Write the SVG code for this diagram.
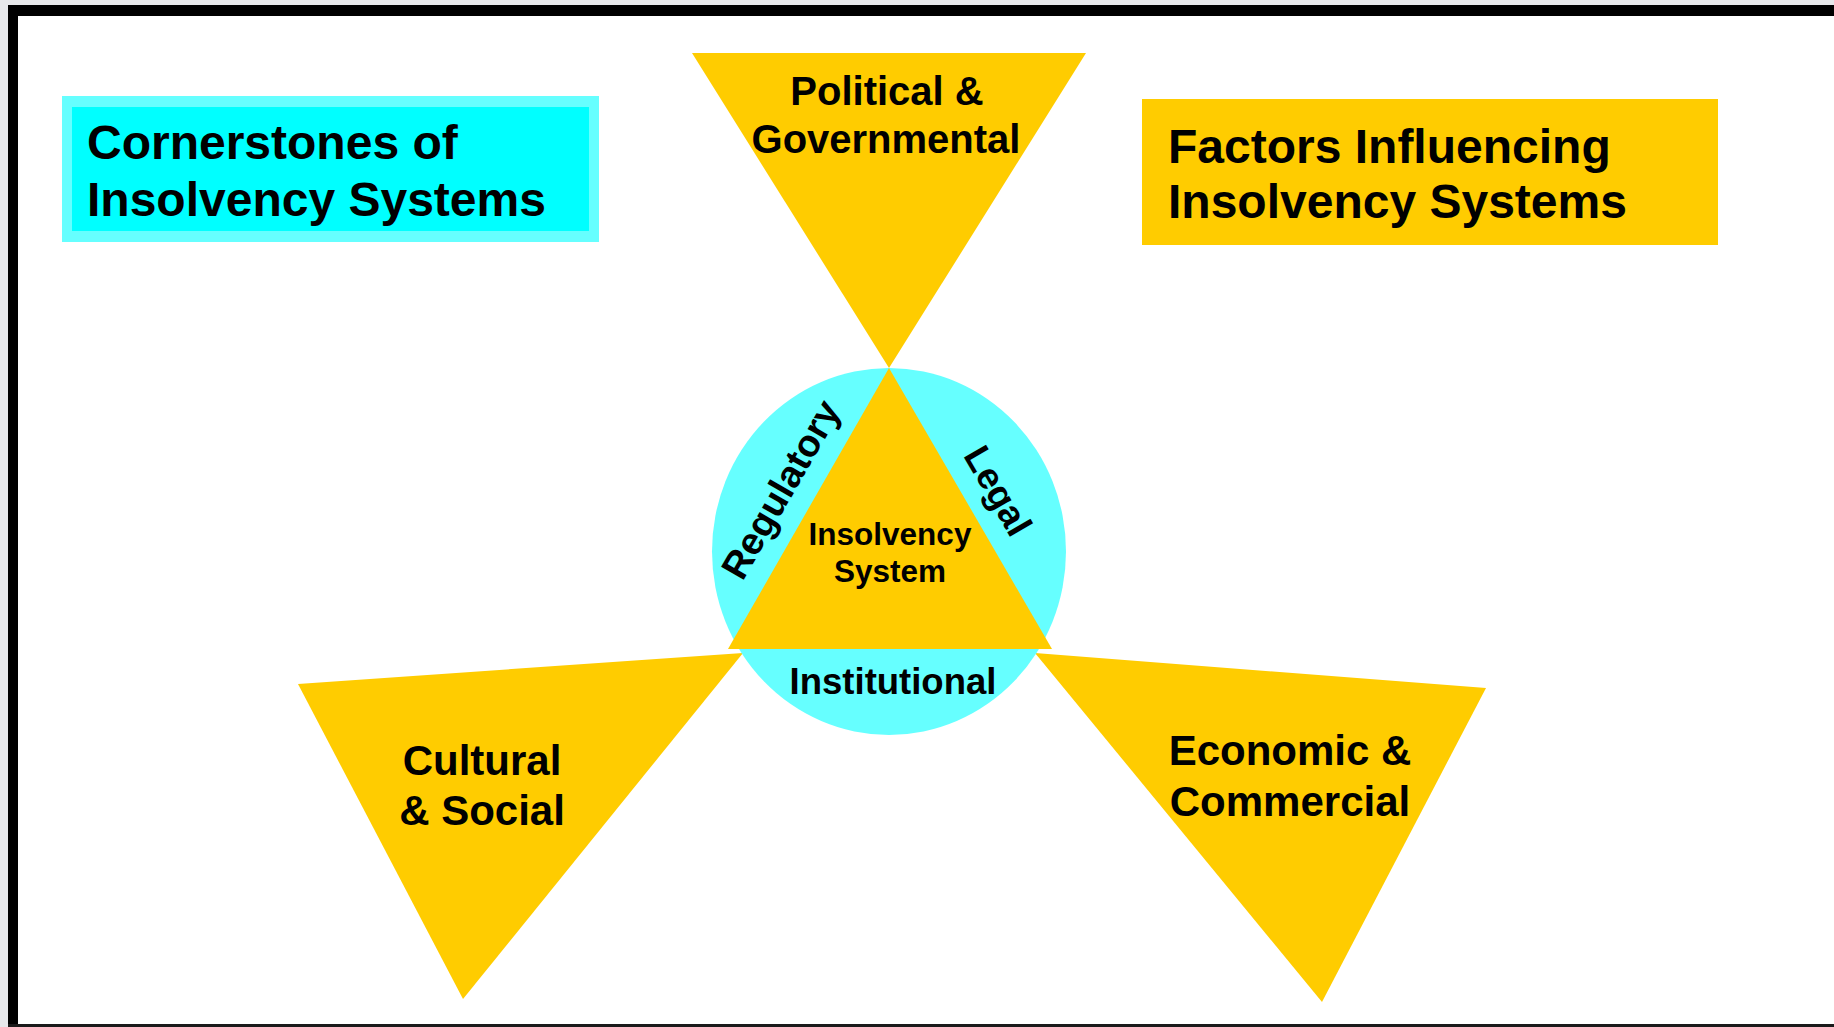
<svg xmlns="http://www.w3.org/2000/svg" width="1834" height="1027" viewBox="0 0 1834 1027">
  <style>
    text { font-family: "Liberation Sans", Arial, sans-serif; font-weight: bold; fill: #000000; }
    .amber { fill: #ffcc00; }
    .aqua { fill: #66ffff; }
    .mid { text-anchor: middle; }
  </style>

  <!-- page background and slide frame -->
  <rect x="0" y="0" width="1834" height="1027" fill="#e7e8eb"/>
  <rect x="8" y="5" width="1826" height="1022" fill="#ffffff"/>
  <rect x="8" y="5" width="1826" height="11" fill="#000000"/>
  <rect x="8" y="5" width="10" height="1022" fill="#000000"/>
  <rect x="8" y="1024" width="1826" height="3" fill="#1a1a1a"/>

  <!-- title: cornerstones -->
  <g id="title-cornerstones">
    <rect x="62" y="96" width="537" height="146" class="aqua"/>
    <rect x="72" y="107" width="517" height="124" fill="#00ffff"/>
    <text x="87" y="159" font-size="48">Cornerstones of</text>
    <text x="87" y="216" font-size="48">Insolvency Systems</text>
  </g>

  <!-- title: influencing factors -->
  <g id="title-factors">
    <rect x="1142" y="99" width="576" height="146" class="amber"/>
    <text x="1168" y="163" font-size="48">Factors Influencing</text>
    <text x="1168" y="218" font-size="48">Insolvency Systems</text>
  </g>

  <!-- factor: political -->
  <g id="factor-political">
    <polygon points="692,53 1086,53 889,368" class="amber"/>
    <text x="887" y="105" font-size="40" class="mid">Political &amp;</text>
    <text x="886" y="153" font-size="40" class="mid">Governmental</text>
  </g>

  <!-- factor: cultural -->
  <g id="factor-cultural">
    <polygon points="298,684 743,653 463,999" class="amber"/>
    <text x="482" y="775" font-size="42" class="mid">Cultural</text>
    <text x="482" y="825" font-size="42" class="mid">&amp; Social</text>
  </g>

  <!-- factor: economic -->
  <g id="factor-economic">
    <polygon points="1035,653 1486,688 1322,1002" class="amber"/>
    <text x="1290" y="765" font-size="42" class="mid">Economic &amp;</text>
    <text x="1290" y="816" font-size="42" class="mid">Commercial</text>
  </g>

  <!-- core: ring of cornerstones around the insolvency system -->
  <g id="core-system">
    <ellipse cx="889" cy="551.5" rx="177" ry="183.5" class="aqua"/>
    <polygon points="889,368 1052,649 728,649" class="amber"/>
    <text x="890" y="545" font-size="31.5" class="mid">Insolvency</text>
    <text x="890" y="582" font-size="31.5" class="mid">System</text>
  </g>

  <g id="cornerstone-regulatory">
    <text x="792" y="496" font-size="38" class="mid" transform="rotate(-60 792 496)">Regulatory</text>
  </g>
  <g id="cornerstone-legal">
    <text x="987" y="497" font-size="37" class="mid" transform="rotate(60 987 497)">Legal</text>
  </g>
  <g id="cornerstone-institutional">
    <text x="893" y="694" font-size="36.5" class="mid">Institutional</text>
  </g>
</svg>
